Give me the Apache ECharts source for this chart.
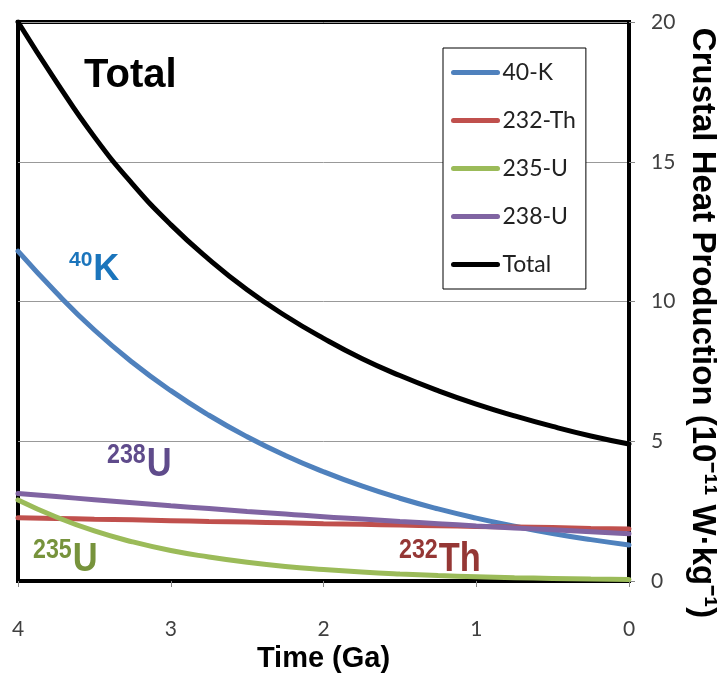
<!DOCTYPE html>
<html>
<head>
<meta charset="utf-8">
<script src="https://cdn.jsdelivr.net/npm/echarts@6/dist/echarts.min.js"></script>
<style>
  html, body { margin: 0; padding: 0; background: #fff; }
  #chart { width: 721px; height: 673px; }
</style>
</head>
<body>
<div id="chart"></div>
<script>
// time before present (Ga)
var times = [0, 0.25, 0.5, 0.75, 1, 1.25, 1.5, 1.75, 2, 2.25, 2.5, 2.75, 3, 3.25, 3.5, 3.75, 4];
// heat production, 10^-11 W/kg
var k40   = [1.29, 1.48, 1.70, 1.96, 2.25, 2.58, 2.96, 3.40, 3.91, 4.49, 5.16, 5.93, 6.81, 7.82, 8.98, 10.32, 11.80];
var th232 = [1.86, 1.88, 1.91, 1.93, 1.95, 1.98, 2.00, 2.03, 2.05, 2.08, 2.11, 2.13, 2.16, 2.19, 2.21, 2.24, 2.26];
var u235  = [0.057, 0.073, 0.093, 0.119, 0.153, 0.195, 0.25, 0.32, 0.41, 0.52, 0.67, 0.86, 1.09, 1.40, 1.79, 2.29, 2.90];
var u238  = [1.69, 1.76, 1.83, 1.90, 1.97, 2.05, 2.13, 2.22, 2.30, 2.40, 2.49, 2.59, 2.69, 2.80, 2.91, 3.02, 3.13];
var total = [4.90, 5.19, 5.53, 5.91, 6.33, 6.81, 7.35, 7.96, 8.68, 9.49, 10.42, 11.51, 12.75, 14.20, 15.89, 17.87, 20.00];

var names  = ['40-K', '232-Th', '235-U', '238-U', 'Total'];
var colors = ['#4F81BD', '#C0504D', '#9BBB59', '#8064A2', '#000000'];
var values = [k40, th232, u235, u238, total];

function pairs(arr) {
    return times.map(function (t, i) { return [t, arr[i]]; });
}

var series = names.map(function (n, i) {
    return {
        name: n,
        type: 'line',
        smooth: true,
        showSymbol: false,
        symbol: 'none',
        data: pairs(values[i]),
        lineStyle: { color: colors[i], width: 5, cap: 'round' },
        itemStyle: { color: colors[i] },
        z: i === 4 ? 4 : 3
    };
});

var sans = '"Liberation Sans", Arial, sans-serif';
var plain = 'Lato, "Liberation Sans", sans-serif';
var squeeze = 0.86;

// superscript + big letter, condensed a bit like the original narrow font
function label(x, y, sup, base, color, supSize, baseSize, sx) {
    var supW = sup.length * supSize * 0.556 * sx;
    return [
        { type: 'text', x: x, y: y, scaleX: sx,
          style: { text: sup, fill: color, font: 'bold ' + supSize + 'px ' + sans } },
        { type: 'text', x: x + supW + 1, y: y + supSize * 0.12, scaleX: sx,
          style: { text: base, fill: color, font: 'bold ' + baseSize + 'px ' + sans } }
    ];
}

var myChart = echarts.init(document.getElementById('chart'));

var option = {
    animation: false,
    backgroundColor: '#fff',
    grid: {
        left: 18, right: 92, top: 22, bottom: 92,
        outerBoundsMode: 'none',
        show: true, borderColor: '#000', borderWidth: 4
    },
    legend: {
        orient: 'vertical',
        left: 443, top: 48,
        padding: [13, 10, 13, 8],
        itemWidth: 44, itemHeight: 22, itemGap: 25,
        backgroundColor: '#fff',
        borderColor: '#000', borderWidth: 1,
        data: names,
        itemStyle: { opacity: 0 },
        lineStyle: { width: 5, cap: 'round' },
        textStyle: { fontSize: 23, color: '#222', fontFamily: plain }
    },
    xAxis: {
        type: 'value', inverse: true,
        min: 0, max: 4, interval: 1,
        name: 'Time (Ga)', nameLocation: 'middle', nameGap: 52,
        nameTextStyle: { fontSize: 29, fontWeight: 'bold', color: '#000', fontFamily: sans },
        axisLine: { lineStyle: { color: '#000', width: 4 } },
        axisTick: { show: true, length: 6, lineStyle: { color: '#888' } },
        axisLabel: { fontSize: 21, color: '#404040', margin: 38, fontFamily: plain },
        splitLine: { show: false }
    },
    yAxis: {
        type: 'value', position: 'right',
        min: 0, max: 20, interval: 5,
        axisLine: { show: true, lineStyle: { color: '#000', width: 4 } },
        axisTick: { show: true, length: 6, lineStyle: { color: '#888' } },
        axisLabel: { fontSize: 21, color: '#404040', margin: 22, fontFamily: plain },
        splitLine: { lineStyle: { color: '#999', width: 1 } }
    },
    graphic: [].concat(
        [{ type: 'text', left: 84, top: 56,
           style: { text: 'Total', fill: '#000', font: 'bold 40px ' + sans } }],
        label(69, 250, '40', 'K', '#1B75BC', 21, 36, 1),
        label(107, 442, '238', 'U', '#5F4B8B', 27, 40, squeeze),
        label(33, 537, '235', 'U', '#77933C', 27, 40, squeeze),
        label(399, 537, '232', 'Th', '#953735', 27, 40, squeeze),
        [{ type: 'text', x: 702, y: 323, rotation: -Math.PI / 2,
           style: { text: 'Crustal Heat Production (10\u207B\u00B9\u00B9 W\u00B7kg\u207B\u00B9)',
                    fill: '#000', align: 'center', verticalAlign: 'middle',
                    font: 'bold 33px ' + sans } }]
    ),
    series: series
};

myChart.setOption(option);
</script>
</body>
</html>
